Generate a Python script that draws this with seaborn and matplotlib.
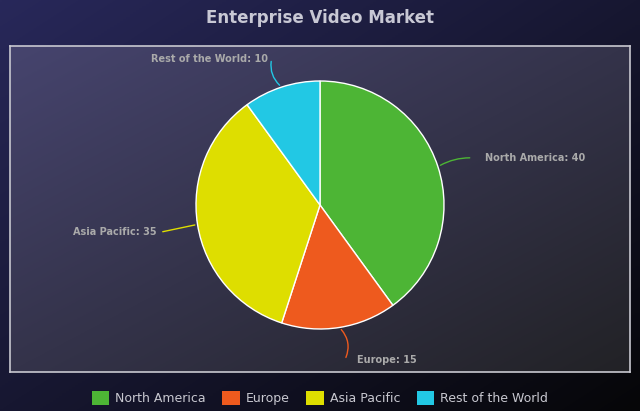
import numpy as np
import matplotlib
matplotlib.use("Agg")
import matplotlib.pyplot as plt
import seaborn as sns
from matplotlib.colors import LinearSegmentedColormap
from matplotlib.patches import Patch

# Data
regions = ["North America", "Europe", "Asia Pacific", "Rest of the World"]
shares = [40, 15, 35, 10]
colors = ["#4db535", "#ee5a1e", "#dede00", "#22c8e4"]

sns.set_theme(style="dark")
plt.rcParams["font.family"] = ["DejaVu Sans"]
palette = sns.color_palette(colors)

W, H = 640, 411
fig = plt.figure(figsize=(W / 100, H / 100), dpi=100)


def gradient(ax, c0, c1):
    # diagonal gradient, top-left -> bottom-right
    cmap = LinearSegmentedColormap.from_list("g", [c0, c1])
    xx, yy = np.meshgrid(np.linspace(0, 1, 200), np.linspace(0, 1, 200))
    ax.imshow((xx + yy) / 2, cmap=cmap, aspect="auto", extent=(0, 1, 0, 1),
              origin="upper", interpolation="bilinear")
    ax.set_xlim(0, 1)
    ax.set_ylim(0, 1)
    ax.axis("off")


# figure background
bg = fig.add_axes([0, 0, 1, 1], zorder=0)
gradient(bg, "#28285a", "#060608")

# plot area
px0, py0, px1, py1 = 10, 46, 630, 372
box = [px0 / W, (H - py1) / H, (px1 - px0) / W, (py1 - py0) / H]
area = fig.add_axes(box, zorder=1)
gradient(area, "#46446e", "#222226")
area.axis("on")
area.set_xticks([])
area.set_yticks([])
for s in area.spines.values():
    s.set_color("#c8c8d0")
    s.set_linewidth(1.2)

# pie
ax = fig.add_axes(box, zorder=2)
ax.patch.set_alpha(0)
wedges, _ = ax.pie(shares, colors=palette, startangle=90, counterclock=False,
                   wedgeprops=dict(edgecolor="white", linewidth=1))
cx, cy, r = 320, 205, 124
ax.set_xlim(-(cx - px0) / r, (px1 - cx) / r)
ax.set_ylim(-(py1 - cy) / r, (cy - py0) / r)
ax.set_aspect("auto")
ax.axis("off")

# outside labels with connectors
label_pos = [(1.33, 0.38, "left", 0.15), (0.30, -1.25, "left", 0.35),
             (-1.32, -0.22, "right", 0.0), (-0.42, 1.18, "right", 0.3)]
angles = [18, -81, -171, 108]
for name, val, col, ang, (tx, ty, ha, rad) in zip(regions, shares, colors, angles, label_pos):
    a = np.deg2rad(ang)
    ex, ey = np.cos(a), np.sin(a)
    end_x = tx - 0.1 if ha == "left" else tx + 0.03
    ax.annotate("", xy=(ex, ey), xytext=(end_x, ty),
                arrowprops=dict(arrowstyle="-", color=col, lw=1,
                                connectionstyle=f"arc3,rad={rad}"))
    ax.text(tx, ty, f"{name}: {val}", ha=ha, va="center", fontsize=7,
            fontweight="bold", color="#aaaaaa")

fig.text(0.5, 1 - 18 / H, "Enterprise Video Market", ha="center", va="center",
         fontsize=12, fontweight="bold", color="#c8c8d4")

handles = [Patch(facecolor=c, edgecolor="none") for c in colors]
fig.legend(handles, regions, loc="center", bbox_to_anchor=(0.5, 1 - 398 / H),
           ncol=4, frameon=False, fontsize=9, labelcolor="#c8c8d0",
           handlelength=1.4, handleheight=1.4, handletextpad=0.5, columnspacing=1.3)

fig.savefig("out.png", dpi=100)
